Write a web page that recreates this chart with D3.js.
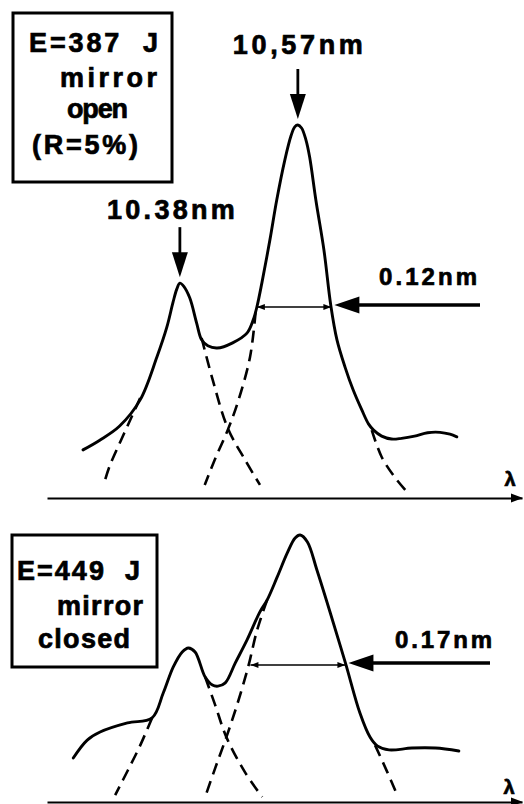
<!DOCTYPE html>
<html>
<head>
<meta charset="utf-8">
<script src="https://cdn.jsdelivr.net/npm/d3@7"></script>
<style>
  html, body { margin: 0; padding: 0; background: #fff; }
  svg { display: block; }
  text { font-family: "Liberation Sans", Arial, Helvetica, sans-serif; font-weight: 700; fill: #000; stroke: #000; stroke-width: 0.7px; }
</style>
</head>
<body>
<svg id="chart" width="524" height="804"></svg>
<script>
// ---- Data: wavelength (nm), normalized intensity (main line = 1) ----

// Shot 1: E = 387 J, mirror open
const openSpectrum = [
  [10.224, 0.129], [10.251, 0.155], [10.283, 0.193], [10.316, 0.263], [10.343, 0.378],
  [10.359, 0.458], [10.369, 0.525], [10.375, 0.560], [10.380, 0.576], [10.386, 0.568],
  [10.396, 0.536], [10.407, 0.469], [10.415, 0.424], [10.425, 0.408], [10.440, 0.402],
  [10.465, 0.416], [10.488, 0.442], [10.498, 0.477], [10.504, 0.512], [10.512, 0.576],
  [10.525, 0.692], [10.536, 0.799], [10.549, 0.906], [10.559, 0.971], [10.565, 0.995],
  [10.570, 1.000], [10.576, 0.992], [10.583, 0.960], [10.589, 0.914], [10.599, 0.799],
  [10.612, 0.665], [10.623, 0.517], [10.633, 0.424], [10.646, 0.351], [10.659, 0.290],
  [10.673, 0.236], [10.684, 0.198], [10.692, 0.182], [10.705, 0.166], [10.721, 0.158],
  [10.737, 0.160], [10.758, 0.166], [10.779, 0.175], [10.799, 0.176], [10.815, 0.171],
  [10.826, 0.164]
];
// fitted line profiles, wings only
const openFitShortLeft  = [[10.316, 0.268], [10.300, 0.209], [10.283, 0.147], [10.267, 0.086], [10.258, 0.040]];
const openFitShortRight = [[10.415, 0.429], [10.433, 0.316], [10.457, 0.188], [10.485, 0.102], [10.509, 0.035]];
const openFitMainLeft   = [[10.502, 0.499], [10.493, 0.378], [10.473, 0.255], [10.457, 0.182], [10.436, 0.102], [10.420, 0.035]];
const openFitMainRight  = [[10.689, 0.182], [10.705, 0.110], [10.726, 0.056], [10.746, 0.016]];

// Shot 2: E = 449 J, mirror closed
const closedSpectrum = [
  [10.164, 0.165], [10.189, 0.232], [10.212, 0.262], [10.261, 0.296], [10.305, 0.315],
  [10.325, 0.408], [10.343, 0.506], [10.359, 0.562], [10.370, 0.577], [10.382, 0.562],
  [10.400, 0.468], [10.413, 0.438], [10.423, 0.434], [10.436, 0.446], [10.454, 0.521],
  [10.475, 0.607], [10.498, 0.712], [10.511, 0.757], [10.529, 0.843], [10.547, 0.933],
  [10.561, 0.989], [10.570, 1.000], [10.583, 0.974], [10.600, 0.869], [10.624, 0.708],
  [10.651, 0.521], [10.677, 0.333], [10.695, 0.243], [10.708, 0.210], [10.729, 0.195],
  [10.770, 0.202], [10.812, 0.202], [10.854, 0.191]
];
const closedFitShortLeft  = [[10.305, 0.315], [10.284, 0.213], [10.262, 0.120], [10.239, 0.026]];
const closedFitShortRight = [[10.400, 0.468], [10.418, 0.363], [10.438, 0.243], [10.472, 0.109], [10.502, 0.019]];
const closedFitMainLeft   = [[10.511, 0.757], [10.493, 0.644], [10.477, 0.506], [10.457, 0.363], [10.438, 0.243], [10.418, 0.127], [10.400, 0.019]];
const closedFitMainRight  = [[10.704, 0.213], [10.726, 0.112], [10.745, 0.019]];

// Identified lines (shot 1)
const peakLabels = ["10.38nm", "10,57nm"];
const peakWavelengths = [10.38, 10.57];
const peakIntensities = [0.576, 1.0];

// Line widths (FWHM) of the main line
const fwhmValues = [0.12, 0.17];
const fwhmLabels = ["0.12nm", "0.17nm"];
const fwhmStart = [10.504, 10.481];   // left half-maximum crossing, nm
const fwhmLevel = [0.512, 0.513];     // half-maximum level

// Shot captions
const openCaption = ["E=387  J", "mirror", "open", "(R=5%)"];
const closedCaption = ["E=449  J", "mirror", "closed"];

// ---- Panel layout ----
const panels = [
  {
    spectrum: openSpectrum,
    fits: [openFitShortLeft, openFitShortRight, openFitMainLeft, openFitMainRight],
    lambda: [10.166, 10.931], yBase: 498, yTop: 125,
    caption: openCaption,
    box: { x: 13, y: 13, w: 159, h: 169 },
    capX: [29, 60, 67, 32], capY: [52, 87, 118, 154], capW: [129, 97, 61, 106],
    pointerFrom: 480, labelX: 379, labelY: 285, labelW: 98,
    lambdaPos: [510, 486],
    showPeaks: true
  },
  {
    spectrum: closedSpectrum,
    fits: [closedFitShortLeft, closedFitShortRight, closedFitMainLeft, closedFitMainRight],
    lambda: [10.117, 10.967], yBase: 802, yTop: 535,
    caption: closedCaption,
    box: { x: 12, y: 535, w: 145, h: 132 },
    capX: [17, 57, 38], capY: [580, 615, 648], capW: [123, 86, 92],
    pointerFrom: 490, labelX: 395, labelY: 648, labelW: 97,
    lambdaPos: [509, 794],
    showPeaks: false
  }
];

const svg = d3.select("#chart");

panels.forEach((p, i) => {
  const x = d3.scaleLinear().domain(p.lambda).range([47, 522]);
  const y = d3.scaleLinear().domain([0, 1]).range([p.yBase, p.yTop]);
  const g = svg.append("g");

  // wavelength axis, no ticks, with arrow
  const ax = g.append("g")
    .attr("transform", `translate(0,${p.yBase})`)
    .call(d3.axisBottom(x).ticks(0).tickSizeOuter(0));
  ax.select(".domain").attr("stroke", "#000").attr("stroke-width", 2.2);
  g.append("path")
    .attr("d", `M523,${p.yBase} L511,${p.yBase - 4.5} L511,${p.yBase + 4.5} Z`)
    .attr("fill", "#000");
  g.append("text")
    .attr("x", p.lambdaPos[0]).attr("y", p.lambdaPos[1])
    .attr("text-anchor", "middle")
    .attr("font-size", 20)
    .text("λ");

  const line = d3.line()
    .x(d => x(d[0])).y(d => y(d[1]))
    .curve(d3.curveCatmullRom.alpha(0.5));

  // fitted component wings
  g.selectAll("path.fit").data(p.fits).join("path")
    .attr("class", "fit")
    .attr("d", line)
    .attr("fill", "none")
    .attr("stroke", "#000")
    .attr("stroke-width", 2.6)
    .attr("stroke-dasharray", "12,7");

  // measured spectrum
  g.append("path")
    .datum(p.spectrum)
    .attr("d", line)
    .attr("fill", "none")
    .attr("stroke", "#000")
    .attr("stroke-width", 2.9)
    .attr("stroke-linejoin", "round")
    .attr("stroke-linecap", "round");

  // FWHM marker
  const fx0 = x(fwhmStart[i]);
  const fx1 = x(fwhmStart[i] + fwhmValues[i]);
  const fy = y(fwhmLevel[i]);
  g.append("line")
    .attr("x1", fx0).attr("x2", fx1).attr("y1", fy).attr("y2", fy)
    .attr("stroke", "#000").attr("stroke-width", 1.6);
  g.append("path")
    .attr("d", `M${fx0},${fy} l8,-3 l0,6 Z M${fx1},${fy} l-8,-3 l0,6 Z`)
    .attr("fill", "#000");

  // pointer to the half-maximum crossing
  const tip = fx1 + 3;
  g.append("line")
    .attr("x1", p.pointerFrom).attr("x2", tip + 20)
    .attr("y1", fy - 2).attr("y2", fy - 2)
    .attr("stroke", "#000").attr("stroke-width", 3.4);
  g.append("path")
    .attr("d", `M${tip},${fy - 2} l25,-8.5 l0,17 Z`)
    .attr("fill", "#000");
  g.append("text")
    .attr("x", p.labelX).attr("y", p.labelY)
    .attr("font-size", 24)
    .attr("textLength", p.labelW).attr("lengthAdjust", "spacing")
    .text(fwhmLabels[i]);

  // caption box
  g.append("rect")
    .attr("x", p.box.x).attr("y", p.box.y)
    .attr("width", p.box.w).attr("height", p.box.h)
    .attr("fill", "none").attr("stroke", "#000").attr("stroke-width", 3);
  g.selectAll("text.cap").data(p.caption).join("text")
    .attr("class", "cap")
    .attr("x", (d, k) => p.capX[k]).attr("y", (d, k) => p.capY[k])
    .attr("font-size", 27)
    .attr("textLength", (d, k) => p.capW[k]).attr("lengthAdjust", "spacing")
    .style("white-space", "pre")
    .text(d => d);

  // identified lines with arrows
  if (p.showPeaks) {
    const labelDx = [-9, 0];
    const labelW = [128, 130];
    const labelGap = [8, 15];
    peakWavelengths.forEach((w, k) => {
      const px = x(w);
      const tipY = y(peakIntensities[k]) - 6;
      const topY = tipY - 50;
      g.append("line")
        .attr("x1", px).attr("x2", px).attr("y1", topY).attr("y2", tipY - 20)
        .attr("stroke", "#000").attr("stroke-width", 2.8);
      g.append("path")
        .attr("d", `M${px},${tipY} l-8,-25 l16,0 Z`)
        .attr("fill", "#000");
      g.append("text")
        .attr("x", px + labelDx[k] - labelW[k] / 2).attr("y", topY - labelGap[k])
        .attr("font-size", 27)
        .attr("textLength", labelW[k]).attr("lengthAdjust", "spacing")
        .text(peakLabels[k]);
    });
  }
});
</script>
</body>
</html>
